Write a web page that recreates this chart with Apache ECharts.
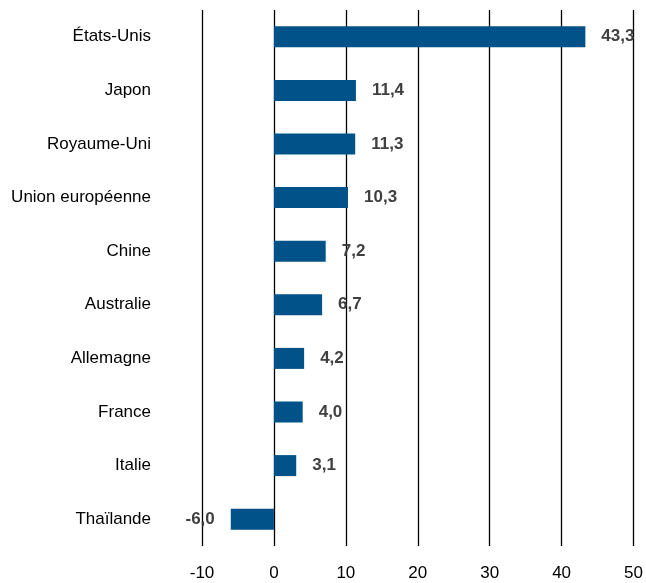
<!DOCTYPE html>
<html><head><meta charset="utf-8">
<script src="https://cdn.jsdelivr.net/npm/echarts@6/dist/echarts.min.js"></script>
<style>html,body{margin:0;padding:0;background:#fff}#c{width:646px;height:583px}</style>
</head><body><div id="c"></div>
<script>
const categories = ["États-Unis","Japon","Royaume-Uni","Union européenne","Chine","Australie","Allemagne","France","Italie","Thaïlande"];
const values = [43.3, 11.4, 11.3, 10.3, 7.2, 6.7, 4.2, 4.0, 3.1, -6.0];
const xTicks = [-10, 0, 10, 20, 30, 40, 50];
const FONT = "'Liberation Sans Narrow', 'Arial Narrow', 'Liberation Sans', Arial, sans-serif";
const chart = echarts.init(document.getElementById('c'));
chart.setOption({
  animation: false,
  grid: {left: 202, right: 10, top: 10, bottom: 37, containLabel: false},
  xAxis: {
    type: 'value', min: xTicks[0], max: xTicks[xTicks.length-1], interval: 10,
    axisLine: {show: false}, axisTick: {show: false},
    splitLine: {show: true, lineStyle: {color: '#000', width: 1.3}},
    axisLabel: {color: '#000', fontSize: 17, fontFamily: FONT, margin: 19}
  },
  yAxis: {
    type: 'category', data: categories, inverse: true,
    axisLine: {show: false}, axisTick: {show: false},
    axisLabel: {color: '#000', fontSize: 17, fontFamily: FONT, margin: 51}
  },
  series: [{
    type: 'bar', barWidth: 21,
    data: values.map(v => ({value: v, label: {position: v < 0 ? 'left' : 'right'}})),
    itemStyle: {color: '#005288'},
    label: {
      show: true, position: 'right', distance: 16,
      color: '#404040', fontWeight: 'bold', fontSize: 17, fontFamily: FONT,
      formatter: p => p.value.toFixed(1).replace('.', ',')
    }
  }]
});
</script></body></html>
